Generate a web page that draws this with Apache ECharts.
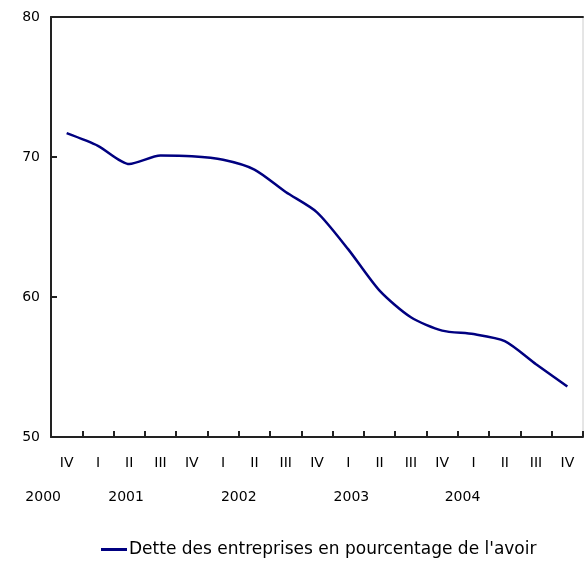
<!DOCTYPE html>
<html>
<head>
<meta charset="utf-8">
<script src="https://cdn.jsdelivr.net/npm/echarts@6/dist/echarts.min.js"></script>
<style>
  html, body { margin: 0; padding: 0; background: #fff; }
  #chart { width: 584px; height: 571px; }
</style>
</head>
<body>
<div id="chart"></div>
<script>
// quarters, 2000 Q4 .. 2004 Q4
const quarters = ['IV', 'I', 'II', 'III', 'IV', 'I', 'II', 'III', 'IV', 'I', 'II', 'III', 'IV', 'I', 'II', 'III', 'IV']
const debtRatio = [71.7, 70.8, 69.5, 70.1, 70.05, 69.8, 69.1, 67.5, 66.05, 63.4, 60.45, 58.55, 57.6, 57.35, 56.85, 55.2, 53.6]
const years = ['2000', '2001', '2002', '2003', '2004']
const seriesName = 'Dette des entreprises en pourcentage de l\'avoir'

const myChart = echarts.init(document.getElementById('chart'))

// where the year captions sit, in category units
const yearAt = [-0.75, 1.9, 5.5, 9.1, 12.65]

const axisLineStyle = { color: '#222', width: 2 }

myChart.setOption({
    animation: false,
    grid: {
        left: 51, right: 1, top: 17, bottom: 134,
        show: true, borderColor: '#ccc', borderWidth: 1
    },
    xAxis: [{
        type: 'category',
        data: quarters,
        boundaryGap: true,
        axisLine: { onZero: false, lineStyle: axisLineStyle },
        axisTick: { show: true, inside: true, length: 6, lineStyle: { color: '#222', width: 2 } },
        axisLabel: { color: '#000', fontFamily: 'DejaVu Sans', fontSize: 14, margin: 19, interval: 0 }
    }, {
        // top frame line, also used to place the year captions
        type: 'value',
        position: 'top',
        min: -0.5, max: 16.5,
        axisLine: { show: true, onZero: false, lineStyle: axisLineStyle },
        axisTick: { show: false },
        axisLabel: { show: false },
        splitLine: { show: false }
    }],
    yAxis: {
        type: 'value',
        min: 50, max: 80, interval: 10,
        splitLine: { show: false },
        axisLine: { show: true, onZero: false, lineStyle: axisLineStyle },
        axisTick: { show: true, inside: true, length: 6, lineStyle: { color: '#222', width: 2 } },
        axisLabel: { color: '#000', fontFamily: 'DejaVu Sans', fontSize: 14, margin: 11 }
    },
    legend: {
        left: 96, top: 536,
        itemWidth: 26, itemHeight: 3, itemGap: 4,
        icon: 'rect',
        textStyle: { color: '#000', fontFamily: 'DejaVu Sans', fontSize: 17, padding: [0, 0, 0, -3] },
        data: [seriesName]
    },
    series: [{
        name: seriesName,
        type: 'line',
        data: debtRatio,
        smooth: 0.25,
        showSymbol: false,
        lineStyle: { color: '#000080', width: 2.5 },
        itemStyle: { color: '#000080' }
    }]
})

// year captions under the quarter labels
const baseY = myChart.convertToPixel({ yAxisIndex: 0 }, 50)
myChart.setOption({
    graphic: years.map((y, i) => ({
        type: 'text',
        x: myChart.convertToPixel({ xAxisIndex: 1 }, yearAt[i]),
        y: baseY + 60,
        style: {
            text: y, fill: '#000', font: '14px "DejaVu Sans"',
            textAlign: 'center', textVerticalAlign: 'middle'
        }
    }))
})
</script>
</body>
</html>
